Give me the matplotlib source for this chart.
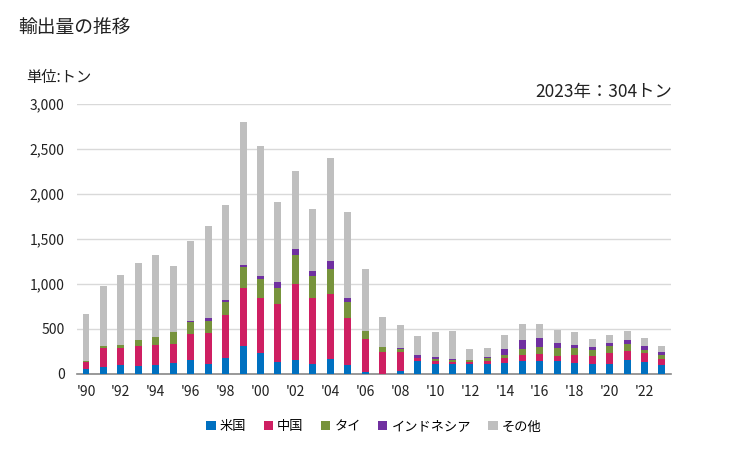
import numpy as np
import matplotlib.pyplot as plt
from matplotlib.ticker import FuncFormatter

plt.rcParams['font.family'] = ['Noto Sans CJK JP', 'DejaVu Sans']

# data (トン), 1990-2023
years = list(range(1990, 2024))
usa   = [48, 70, 93, 85, 93, 115, 152, 107, 174, 307, 226, 130, 152, 107, 159, 93, 19, 0,
         26, 137, 107, 107, 107, 107, 115, 137, 137, 137, 115, 107, 107, 152, 130, 93]
china = [78, 215, 192, 222, 222, 211, 289, 341, 474, 641, 611, 640, 844, 730, 722, 522, 362, 237,
         211, 37, 37, 19, 19, 30, 59, 67, 78, 56, 89, 86, 119, 96, 96, 66]
thai  = [11, 19, 30, 67, 89, 133, 129, 133, 145, 233, 211, 178, 319, 244, 278, 178, 89, 56,
         33, 0, 12, 22, 22, 33, 30, 66, 78, 88, 77, 66, 78, 78, 33, 45]
indo  = [0, 0, 0, 0, 0, 0, 15, 34, 22, 23, 33, 67, 66, 56, 89, 44, 0, 0,
         11, 30, 25, 15, 0, 11, 66, 100, 100, 56, 34, 34, 33, 44, 45, 33]
other = [522, 666, 778, 852, 911, 734, 885, 1022, 1055, 1589, 1445, 889, 867, 689, 1145, 956, 689, 333,
         256, 211, 278, 307, 122, 100, 156, 178, 155, 144, 144, 88, 89, 100, 89, 67]

names  = ['米国', '中国', 'タイ', 'インドネシア', 'その他']
colors = ['#0070C0', '#CE1F62', '#77933C', '#7030A0', '#BFBFBF']
series = [usa, china, thai, indo, other]

fig = plt.figure(figsize=(7.29, 4.5), dpi=100)
ax = fig.add_axes([0.106, 0.170, 0.814, 0.600])

x = np.arange(len(years))
bottom = np.zeros(len(years))
for vals, name, c in zip(series, names, colors):
    ax.bar(x, vals, width=0.4, bottom=bottom, color=c, label=name, zorder=3)
    bottom += np.array(vals)

ax.set_xlim(-0.5, len(years) - 0.5)
ax.set_ylim(0, 3000)
ax.set_yticks(range(0, 3001, 500))
ax.yaxis.set_major_formatter(FuncFormatter(lambda v, p: f'{int(v):,}'))
ax.set_xticks(x[::2])
ax.set_xticklabels(["'" + str(y)[2:] for y in years[::2]])
ax.grid(axis='y', color='#D9D9D9', linewidth=1, zorder=0)
for s in ['top', 'right', 'left']:
    ax.spines[s].set_visible(False)
ax.spines['bottom'].set_color('#888888')
ax.spines['bottom'].set_linewidth(1.2)
ax.tick_params(axis='both', length=0, labelsize=10, colors='#222222')
ax.tick_params(axis='y', pad=9)
ax.tick_params(axis='x', pad=8)

fig.text(0.025, 0.94, '輸出量の推移', fontsize=13.5, va='center', ha='left', color='#222222')
fig.text(0.036, 0.828, '単位:トン', fontsize=11, va='center', ha='left', color='#222222')
fig.text(0.922, 0.795, '2023年：304トン', fontsize=12.5, va='center', ha='right', color='#222222')

ax.legend(loc='upper center', bbox_to_anchor=(0.5, -0.13), ncol=5, frameon=False,
          fontsize=9.5, handlelength=0.7, handleheight=0.7, handletextpad=0.33, columnspacing=1.3)

fig.savefig('out.png', dpi=100)
